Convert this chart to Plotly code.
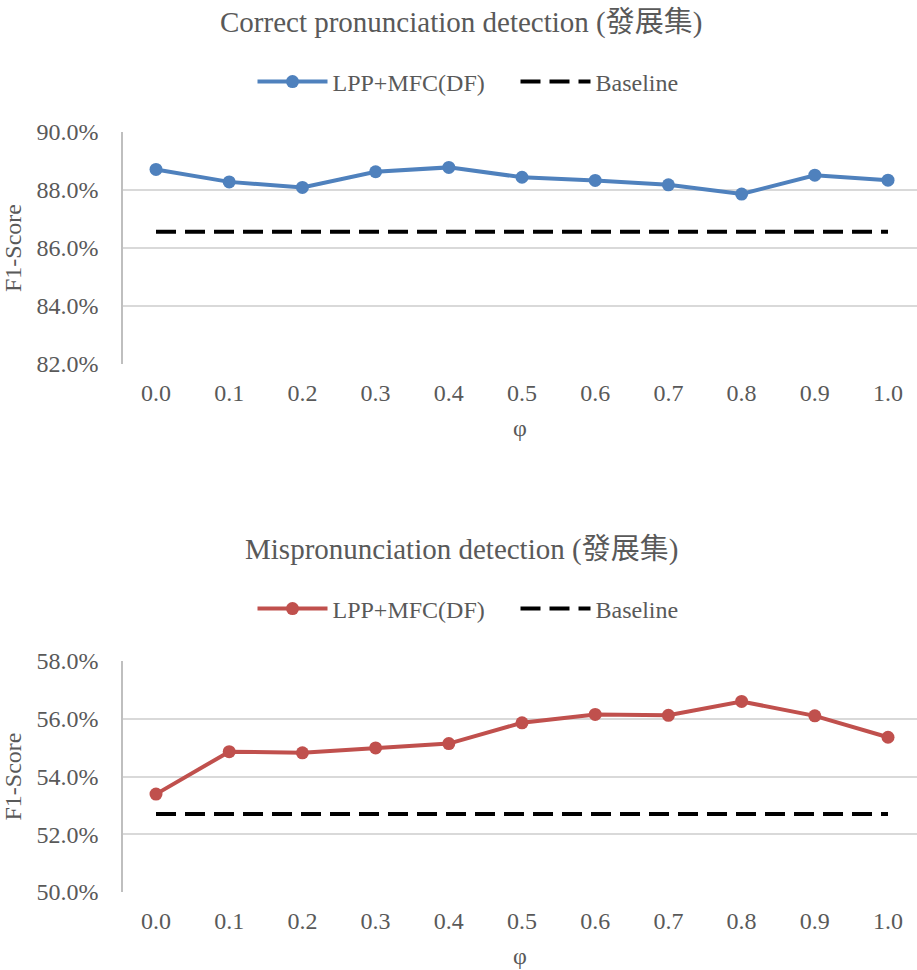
import plotly.graph_objects as go

# φ values along the x axis
phi = [0.0, 0.1, 0.2, 0.3, 0.4, 0.5, 0.6, 0.7, 0.8, 0.9, 1.0]
phi_labels = ["0.0", "0.1", "0.2", "0.3", "0.4", "0.5", "0.6", "0.7", "0.8", "0.9", "1.0"]

# F1-scores (%) on the development set
correct_lpp = [88.71, 88.28, 88.09, 88.63, 88.78, 88.44, 88.33, 88.18, 87.86, 88.51, 88.34]
correct_baseline = 86.56
mispron_lpp = [53.39, 54.86, 54.82, 54.99, 55.14, 55.86, 56.15, 56.12, 56.60, 56.10, 55.36]
mispron_baseline = 52.70

titles = ["Correct pronunciation detection (發展集)", "Mispronunciation detection (發展集)"]
series_name = "LPP+MFC(DF)"
baseline_name = "Baseline"

FONT = "Liberation Serif, Times New Roman, Noto Sans CJK TC, serif"
GREY = "#595959"
BLUE = "#4F81BD"
RED = "#C0504D"

idx = list(range(len(phi)))

fig = go.Figure()

panels = [
    dict(vals=correct_lpp, base=correct_baseline, color=BLUE, xa="x", ya="y", legend="legend"),
    dict(vals=mispron_lpp, base=mispron_baseline, color=RED, xa="x2", ya="y2", legend="legend2"),
]

for p in panels:
    fig.add_trace(go.Scatter(
        x=idx, y=p["vals"], mode="lines+markers", name=series_name,
        line=dict(color=p["color"], width=4),
        marker=dict(color=p["color"], size=13),
        xaxis=p["xa"], yaxis=p["ya"], legend=p["legend"],
    ))
    fig.add_trace(go.Scatter(
        x=[idx[0], idx[-1]], y=[p["base"], p["base"]], mode="lines", name=baseline_name,
        line=dict(color="black", width=4, dash="20px,9px"),
        xaxis=p["xa"], yaxis=p["ya"], legend=p["legend"],
    ))

xcommon = dict(
    range=[-0.451, 10.396], tickvals=idx, ticktext=phi_labels,
    showgrid=False, zeroline=False, showline=False, ticks="", automargin=False,
    tickfont=dict(family=FONT, size=24, color=GREY),
    ticklabelstandoff=12,
    title=dict(text="φ", font=dict(family=FONT, size=24, color=GREY), standoff=14),
)
ycommon = dict(
    ticksuffix="%", tickformat=".1f", dtick=2,
    showgrid=True, gridcolor="#D9D9D9", gridwidth=1.5,
    zeroline=False, showline=True, linecolor="#BFBFBF", linewidth=1.5,
    ticks="", automargin=False, tickfont=dict(family=FONT, size=24, color=GREY),
    ticklabelstandoff=18,
    title=dict(text="F1-Score", font=dict(family=FONT, size=24, color=GREY), standoff=10),
)

H = 970
legend_style = dict(orientation="h", x=(468 - 123 + 47.5) / 794, xanchor="center", yanchor="middle",
                    font=dict(family=FONT, size=24, color=GREY), itemwidth=70,
                    entrywidth=178, bgcolor="rgba(0,0,0,0)")

fig.update_layout(
    width=917, height=H,
    margin=dict(l=123, r=0, t=0, b=0),
    paper_bgcolor="white", plot_bgcolor="white",
    font=dict(family=FONT, color=GREY),
    xaxis=dict(xcommon, domain=[0, 1], anchor="y"),
    yaxis=dict(ycommon, domain=[1 - 364 / H, 1 - 132 / H], range=[82, 90], anchor="x"),
    xaxis2=dict(xcommon, domain=[0, 1], anchor="y2"),
    yaxis2=dict(ycommon, domain=[1 - 892 / H, 1 - 661 / H], range=[50, 58], anchor="x2"),
    legend=dict(legend_style, y=1 - 82 / H),
    legend2=dict(legend_style, y=1 - 609 / H),
    annotations=[
        dict(text=titles[0], x=(461 - 123) / 794, xref="paper", y=1 - 22 / H, yref="paper",
             showarrow=False, xanchor="center", yanchor="middle",
             font=dict(family=FONT, size=29, color=GREY)),
        dict(text=titles[1], x=(461 - 123) / 794, xref="paper", y=1 - 549 / H, yref="paper",
             showarrow=False, xanchor="center", yanchor="middle",
             font=dict(family=FONT, size=29, color=GREY)),
    ],
)

fig.write_html("out.html")
